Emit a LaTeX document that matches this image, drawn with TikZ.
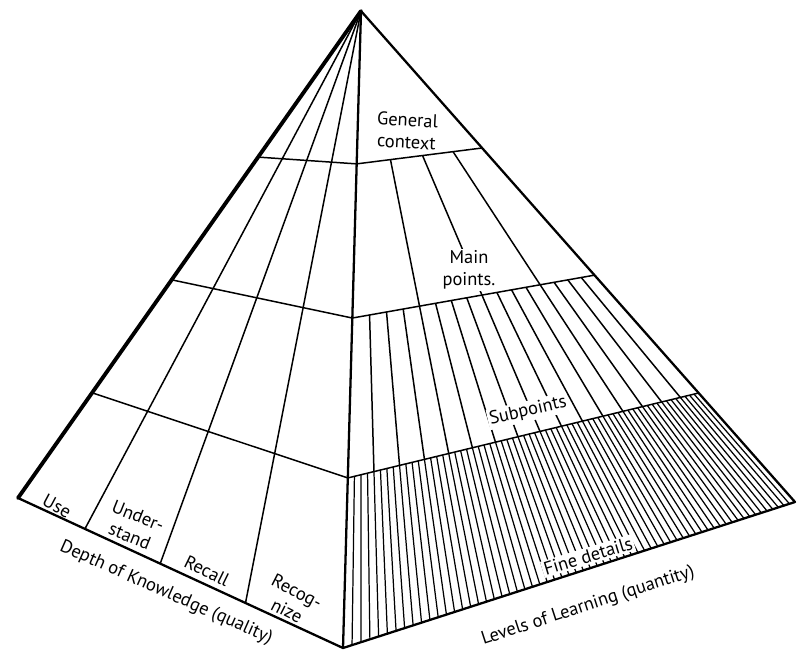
\documentclass[tikz,border=0pt]{standalone}
\usepackage{fontspec}
\setmainfont{PT Sans}
\usetikzlibrary{calc}

\begin{document}
\begin{tikzpicture}[
    x=0.02cm, y=-0.02cm,
    rim/.style={line width=1.3pt, line join=round},
    thickrim/.style={line width=2.2pt, line cap=round},
    divline/.style={line width=0.85pt},
    fineline/.style={line width=0.7pt},
    lbl/.style={font=\fontsize{10.5}{12.5}\selectfont, align=center, inner sep=1pt},
    mask/.style={lbl, fill=white}
]
    \useasboundingbox (0,0) rectangle (797,652);

    % corners of the pyramid
    \coordinate (A) at (361,11);
    \coordinate (L) at (18,498);
    \coordinate (F) at (343,648);
    \coordinate (R) at (795,502);

    % band boundaries on the three edges
    \coordinate (b1l) at ($(A)!0.300!(L)$);
    \coordinate (b1f) at ($(A)!0.240!(F)$);
    \coordinate (b1r) at ($(A)!0.279!(R)$);
    \coordinate (b2l) at ($(A)!0.552!(L)$);
    \coordinate (b2f) at ($(A)!0.482!(F)$);
    \coordinate (b2r) at ($(A)!0.538!(R)$);
    \coordinate (b3l) at ($(A)!0.784!(L)$);
    \coordinate (b3f) at ($(A)!0.733!(F)$);
    \coordinate (b3r) at ($(A)!0.778!(R)$);

    \draw[divline] (b1l) -- (b1f) -- (b1r);
    \draw[divline] (b2l) -- (b2f) -- (b2r);
    \draw[divline] (b3l) -- (b3f) -- (b3r);

    % depth of knowledge columns
    \foreach \u in {0.25,0.5,0.75} {
        \pgfmathsetmacro\tpos{1.286*\u/(1+0.286*\u)}
        \draw[divline] (A) -- ($(F)!\tpos!(L)$);
    }

    % main points
    \begin{scope}
        \clip (b1f) -- (b1r) -- (b2r) -- (b2f) -- cycle;
        \foreach \u in {0.25,0.5,0.75} {
            \pgfmathsetmacro\tpos{1.286*\u/(1+0.286*\u)}
            \draw[divline] (A) -- ($(F)!\tpos!(R)$);
        }
    \end{scope}

    % subpoints
    \begin{scope}
        \clip (b2f) -- (b2r) -- (b3r) -- (b3f) -- cycle;
        \foreach \i in {1,...,15} {
            \pgfmathsetmacro\tpos{1.286*(\i/16)/(1+0.286*(\i/16))}
            \draw[divline] (A) -- ($(F)!\tpos!(R)$);
        }
    \end{scope}

    % fine details
    \begin{scope}
        \clip (b3f) -- (b3r) -- (R) -- (F) -- cycle;
        \foreach \i in {1,...,63} {
            \pgfmathsetmacro\tpos{1.286*(\i/64)/(1+0.286*(\i/64))}
            \draw[fineline] (A) -- ($(F)!\tpos!(R)$);
        }
    \end{scope}

    % outline
    \draw[rim] (A) -- (F);
    \draw[rim] (A) -- (R) -- (F) -- (L);
    \draw[thickrim] (A) -- (L);

    % labels
    \node[lbl, rotate=-3] (general) at (407,131) {General\\context};
    \node[mask] (mainpts) at (469,270) {Main\\points.};
    \node[mask, rotate=13] (subpts) at (528,411) {Subpoints};
    \node[mask, rotate=17] (finedet) at (588,556) {Fine details};
    \node[lbl, rotate=18] (levels) at (588,606) {Levels of Learning (quantity)};

    \node[lbl, rotate=-28] (use) at (57,506) {Use};
    \node[lbl, rotate=-22] (understand) at (134,526) {Under-\\stand};
    \node[lbl, rotate=-26] (recall) at (207,571) {Recall};
    \node[lbl, rotate=-27] (recognize) at (292,601) {Recog-\\nize};
    \node[lbl, rotate=-24] (depth) at (166,593) {Depth of Knowledge (quality)};
\end{tikzpicture}
\end{document}
